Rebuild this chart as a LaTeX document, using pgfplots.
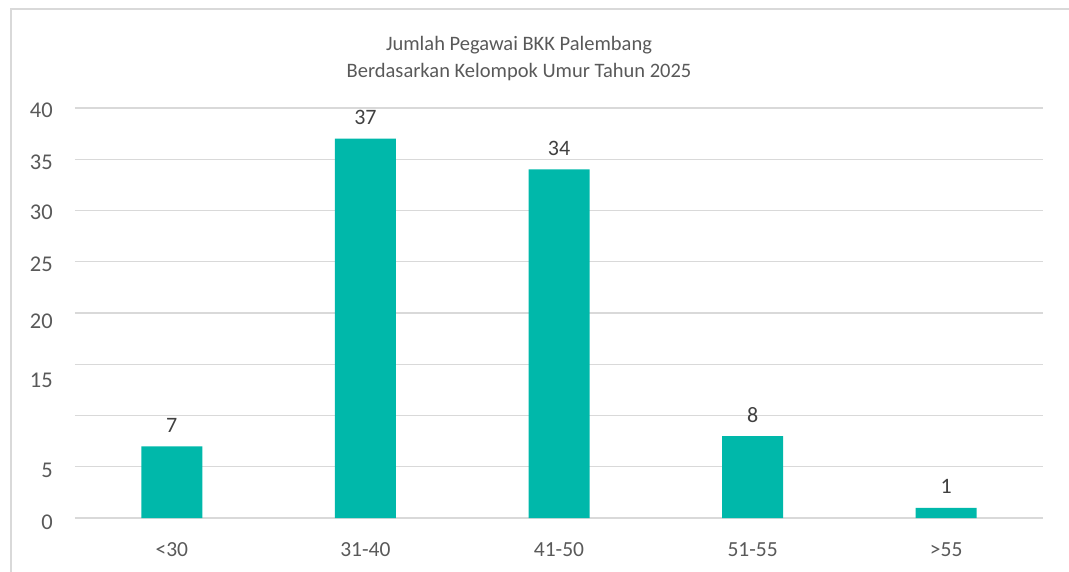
\documentclass[border=0pt]{standalone}
\usepackage{pgfplots}
\pgfplotsset{compat=1.18}
\usepackage{fontspec}
\setmainfont{Carlito}
\definecolor{barc}{HTML}{00B8AA}
\definecolor{gridc}{HTML}{D9D9D9}
\definecolor{tickc}{HTML}{595959}
\definecolor{valc}{HTML}{404040}
\newcommand\yl[2]{\smash{\raisebox{#1}{#2}}}
\begin{document}
\begin{tikzpicture}[x=1pt,y=1pt]
\useasboundingbox (0,0) rectangle (1069,571);
\draw[gridc, line width=1.5pt] (11,-5) -- (11,562) -- (1075,562);
\node[tickc, align=center, font=\fontsize{20.5}{27}\selectfont] at (519,512.5) {Jumlah Pegawai BKK Palembang\\Berdasarkan Kelompok Umur Tahun 2025};
\begin{axis}[
  at={(75pt,53pt)}, anchor=south west,
  scale only axis, width=968pt, height=410pt,
  xmin=-0.5, xmax=4.5, ymin=0, ymax=40,
  axis line style={draw=none},
  tick style={draw=none},
  ymajorgrids, grid style={gridc, line width=1.4pt},
  xtick={0,1,2,3,4},
  xticklabels={<30,31-40,41-50,51-55,>55},
  ytick={0,5,10,15,20,25,30,35,40},
  yticklabels={\yl{-11pt}{0},\yl{-11pt}{5},{},\yl{-23pt}{15},\yl{-16pt}{20},\yl{-10pt}{25},\yl{-9pt}{30},\yl{-10pt}{35},\yl{-10pt}{40}},
  yticklabel style={anchor=east, xshift=-22pt, inner sep=0pt, text=tickc, font=\fontsize{22.5}{26}\selectfont},
  xticklabel style={anchor=center, yshift=-27pt, text=tickc, font=\fontsize{21.5}{26}\selectfont},
  ybar, bar width=61pt,
  nodes near coords,
  /pgf/number format/assume math mode=true,
  nodes near coords style={anchor=center, yshift=21pt, text=valc, font=\fontsize{22}{26}\selectfont},
]
\addplot[fill=barc, draw=none] coordinates {(0,7) (1,37) (2,34) (3,8) (4,1)};
\end{axis}
\end{tikzpicture}
\end{document}
